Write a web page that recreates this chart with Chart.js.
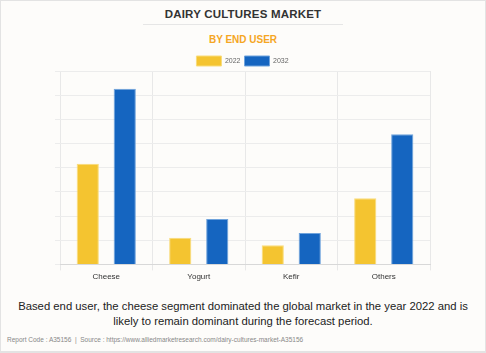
<!DOCTYPE html>
<html>
<head>
<meta charset="utf-8">
<script src="https://cdn.jsdelivr.net/npm/chart.js@4.4.0/dist/chart.umd.min.js"></script>
<style>
  html, body { margin: 0; padding: 0; }
  body { width: 486px; height: 353px; overflow: hidden; background: #fdfcfa; font-family: Arial, "Liberation Sans", sans-serif; }
  #page { position: absolute; left: 0; top: 0; border: 1px solid #e3e3e3; border-bottom-width: 2px; box-sizing: border-box; width: 486px; height: 353px; }
  #title { position: absolute; top: 8px; left: 0; width: 486px; text-align: center; font-weight: bold; font-size: 11.5px; color: #333; letter-spacing: 0.2px; }
  #rule { position: absolute; top: 24px; left: 143px; width: 200px; height: 1px; background: #e6e6e6; }
  #sub { position: absolute; top: 34px; left: 0; width: 486px; text-align: center; font-weight: bold; font-size: 10px; color: #f5a623; }
  #wrap { position: absolute; top: 52px; left: 0; width: 486px; height: 232px; }
  #caption { position: absolute; top: 299px; left: 0; width: 486px; text-align: center; font-size: 11.3px; line-height: 14.5px; color: #222; }
  #foot { position: absolute; top: 336px; left: 7px; font-size: 6.5px; color: #888; }
</style>
</head>
<body>
<div id="page"></div>
<div id="title">DAIRY CULTURES MARKET</div>
<div id="rule"></div>
<div id="sub">BY END USER</div>
<div id="wrap"><canvas id="chart"></canvas></div>
<div id="caption">Based end user, the cheese segment dominated the global market in the year 2022 and is<br>likely to remain dominant during the forecast period.</div>
<div id="foot">Report Code : A35156 &nbsp;|&nbsp; Source : https://www.alliedmarketresearch.com/dairy-cultures-market-A35156</div>
<script>
// values (axis units hidden)
const categories = ['Cheese', 'Yogurt', 'Kefir', 'Others'];
const values2022 = [4.16, 1.1, 0.79, 2.74];
const values2032 = [7.27, 1.88, 1.3, 5.38];
const seriesLabels = ['2022', '2032'];

const ctx = document.getElementById('chart');

// pull the plot a bit closer to the legend
const legendGap = {
  id: 'legendGap',
  beforeInit(chart) {
    const fit = chart.legend.fit;
    chart.legend.fit = function () {
      fit.call(this);
      this.height -= 5;
    };
  }
};

new Chart(ctx, {
  type: 'bar',
  data: {
    labels: categories,
    datasets: [{
      label: seriesLabels[0],
      data: values2022,
      backgroundColor: '#f4c430',
      borderColor: '#f9dc7a',
      borderWidth: 1
    }, {
      label: seriesLabels[1],
      data: values2032,
      backgroundColor: '#1565c0',
      borderColor: '#6fa3dc',
      borderWidth: 1
    }]
  },
  options: {
    responsive: true,
    maintainAspectRatio: false,
    animation: false,
    layout: { padding: { left: 55, right: 56, top: 0, bottom: 0 } },
    categoryPercentage: 0.8,
    barPercentage: 0.6,
    plugins: {
      tooltip: { enabled: false },
      legend: {
        labels: {
          boxWidth: 25,
          boxHeight: 10,
          padding: 4,
          color: '#666',
          font: { size: 7, family: 'Arial' }
        }
      }
    },
    scales: {
      x: {
        grid: { color: '#e8e8e8', tickLength: 6 },
        border: { color: '#d8d8d8' },
        ticks: { color: '#333', font: { size: 8, family: 'Arial' }, padding: 2 }
      },
      y: {
        min: 0,
        max: 8,
        ticks: { stepSize: 1, display: false },
        grid: { color: '#ececec', tickLength: 5 },
        border: { display: false }
      }
    }
  },
  plugins: [legendGap]
});
</script>
</body>
</html>
